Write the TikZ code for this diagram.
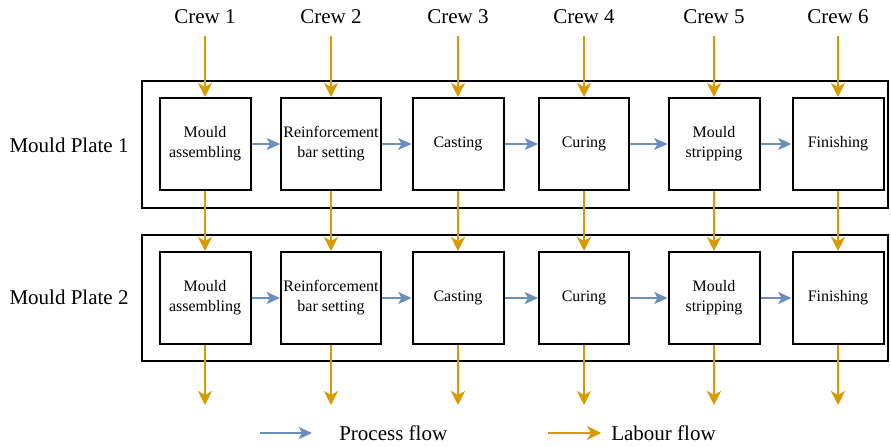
\documentclass[tikz,border=0pt]{standalone}
\usepackage{fontspec}
\setmainfont{Liberation Serif}
\usetikzlibrary{arrows.meta}
\definecolor{labour}{HTML}{D79B00}
\definecolor{process}{HTML}{6C8EBF}
\begin{document}
\begin{tikzpicture}[x=0.75pt,y=-0.75pt,
  stagebox/.style={draw=black,line width=1.5pt,fill=white,minimum height=69pt,inner sep=0pt,align=center,font=\fontsize{12pt}{15pt}\selectfont},
  platebox/.style={draw=black,line width=1.1pt},
  biglabel/.style={font=\fontsize{15.75pt}{18pt}\selectfont,inner sep=0pt},
  labourarrow/.style={draw=labour,line width=1.3pt,-{Stealth[length=10.5pt,width=10.5pt,inset=3pt]}},
  processarrow/.style={draw=process,line width=1.3pt,-{Stealth[length=10pt,width=9pt,inset=2.5pt]}}]
\useasboundingbox (0,0) rectangle (891,446);
% plates
\draw[platebox] (142,81) rectangle (888,208);
\draw[platebox] (142,235) rectangle (888,361);
\node[biglabel] (p1) at (69,145) {Mould Plate 1};
\node[biglabel] (p2) at (69,297) {Mould Plate 2};
% crews
\foreach \i/\x in {1/205,2/331,3/458,4/584,5/714,6/838}{
  \node[biglabel] (c\i) at (\x,17) {Crew \i};
  \coordinate (s\i) at (\x,36);
  \coordinate (e\i) at (\x,405);
}
% stage boxes
\foreach \r/\y in {1/144,2/298}{
  \node[stagebox,minimum width=68.25pt] (b\r1) at (205,\y) {Mould\\assembling};
  \node[stagebox,minimum width=75pt] (b\r2) at (331,\y) {Reinforcement\\bar setting};
  \node[stagebox,minimum width=68.25pt] (b\r3) at (458,\y) {Casting};
  \node[stagebox,minimum width=67.5pt] (b\r4) at (584,\y) {Curing};
  \node[stagebox,minimum width=68.25pt] (b\r5) at (714,\y) {Mould\\stripping};
  \node[stagebox,minimum width=68.25pt] (b\r6) at (838,\y) {Finishing};
  \draw[processarrow] (b\r1) -- (b\r2);
  \draw[processarrow] (b\r2) -- (b\r3);
  \draw[processarrow] (b\r3) -- (b\r4);
  \draw[processarrow] (b\r4) -- (b\r5);
  \draw[processarrow] (b\r5) -- (b\r6);
}
\foreach \i in {1,...,6}{
  \draw[labourarrow] (s\i) -- (b1\i.north);
  \draw[labourarrow] (b1\i.south) -- (b2\i.north);
  \draw[labourarrow] (b2\i.south) -- (e\i);
}
% legend
\coordinate (lp1) at (260,433);
\coordinate (lp2) at (312,433);
\coordinate (ll1) at (548,433);
\coordinate (ll2) at (601,433);
\draw[processarrow] (lp1) -- (lp2);
\draw[labourarrow] (ll1) -- (ll2);
\node[biglabel,anchor=west] (lpt) at (339,433) {Process flow};
\node[biglabel,anchor=west] (llt) at (611,433) {Labour flow};
\end{tikzpicture}
\end{document}
